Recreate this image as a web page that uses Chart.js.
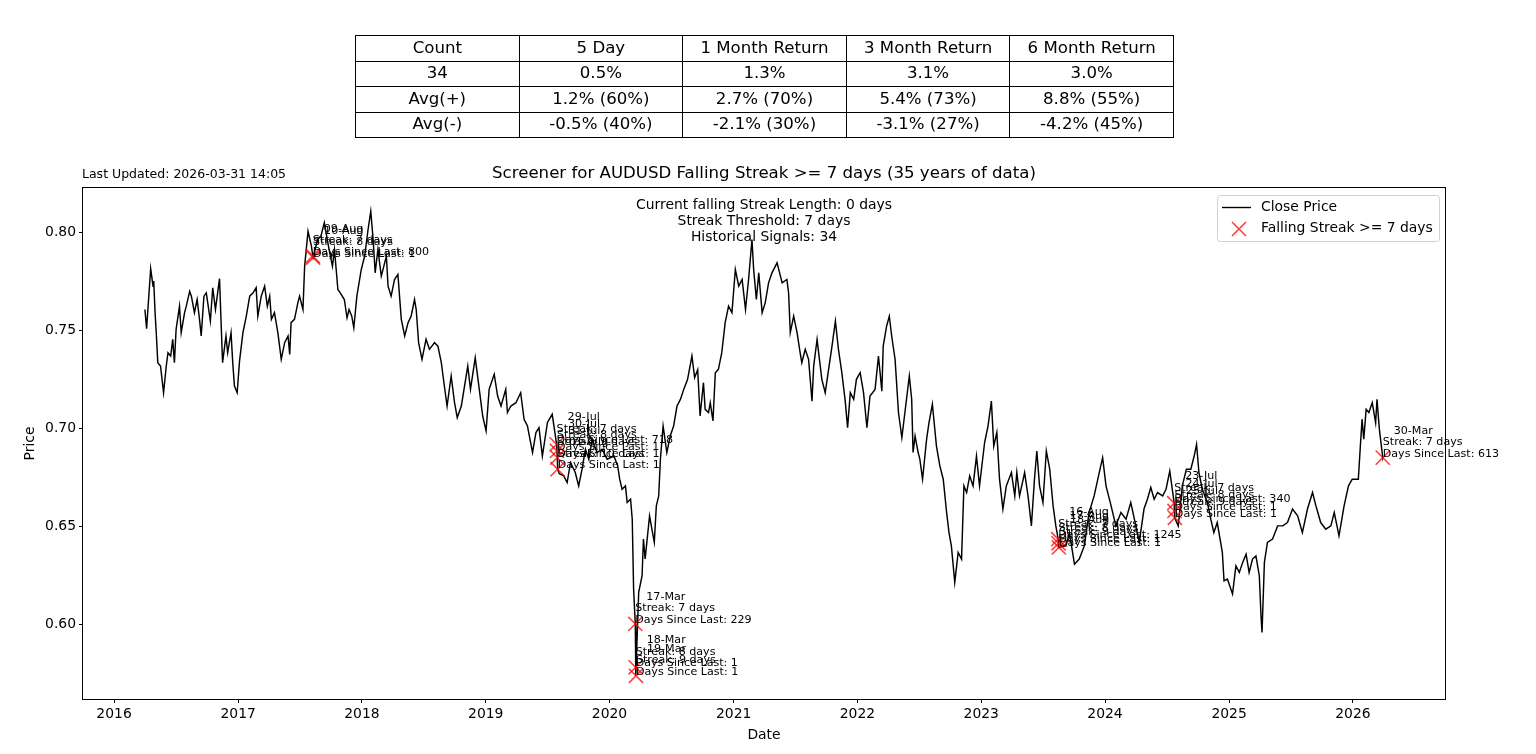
<!DOCTYPE html>
<html lang="en">
<head>
<meta charset="UTF-8">
<title>AUDUSD Falling Streak Screener</title>
<script src="https://cdn.jsdelivr.net/npm/chart.js"></script>
<style>
  body { margin: 0; background: #fff; font-family: "DejaVu Sans", sans-serif; }
  #wrap { position: relative; width: 1536px; height: 754px; }
  #stats {
    position: absolute; left: 355px; top: 35px; width: 819px;
    border-collapse: collapse; table-layout: fixed;
    font-size: 16.6px; color: #000;
  }
  #stats td { border: 1px solid #000; height: 24.5px; padding: 0; text-align: center; line-height: 1; }
  #chart { position: absolute; left: 0; top: 0; }
</style>
</head>
<body>
<div id="wrap">
  <canvas id="chart" width="1536" height="754"></canvas>
  <table id="stats"></table>
</div>

<script>
  // summary table
  const tableHead = ["Count", "5 Day", "1 Month Return", "3 Month Return", "6 Month Return"];
  const tableRows = [
    ["34", "0.5%", "1.3%", "3.1%", "3.0%"],
    ["Avg(+)", "1.2% (60%)", "2.7% (70%)", "5.4% (73%)", "8.8% (55%)"],
    ["Avg(-)", "-0.5% (40%)", "-2.1% (30%)", "-3.1% (27%)", "-4.2% (45%)"]
  ];

  // close prices
  const dates = [
    "2016-04-01","2016-04-06","2016-04-18","2016-04-25","2016-04-27","2016-05-01","2016-05-05","2016-05-09","2016-05-17","2016-05-26",
    "2016-06-03","2016-06-08","2016-06-16","2016-06-22","2016-06-27","2016-07-02","2016-07-12","2016-07-17","2016-07-27","2016-08-01",
    "2016-08-11","2016-08-16","2016-08-25","2016-09-02","2016-09-09","2016-09-14","2016-09-22","2016-09-29","2016-10-11","2016-10-18",
    "2016-10-26","2016-11-07","2016-11-11","2016-11-16","2016-11-26","2016-12-01","2016-12-11","2016-12-16","2016-12-21","2016-12-29",
    "2017-01-05","2017-01-15","2017-01-25","2017-02-04","2017-02-14","2017-02-23","2017-02-28","2017-03-10","2017-03-20","2017-03-28",
    "2017-04-04","2017-04-09","2017-04-18","2017-04-28","2017-05-08","2017-05-18","2017-05-28","2017-06-02","2017-06-06","2017-06-16",
    "2017-06-26","2017-07-01","2017-07-11","2017-07-16","2017-07-26","2017-08-05","2017-08-09","2017-08-10","2017-08-23","2017-09-02",
    "2017-09-12","2017-09-26","2017-10-06","2017-10-12","2017-10-17","2017-10-22","2017-10-29","2017-11-10","2017-11-18","2017-11-24",
    "2017-12-02","2017-12-08","2017-12-17","2017-12-30",
    "2018-01-09","2018-01-19","2018-01-27","2018-02-03","2018-02-09","2018-02-17","2018-02-27","2018-03-09","2018-03-14","2018-03-19",
    "2018-03-28","2018-04-07","2018-04-17","2018-04-27","2018-05-07","2018-05-17","2018-05-26","2018-06-05","2018-06-10","2018-06-17",
    "2018-06-27","2018-07-09","2018-07-19","2018-08-03","2018-08-13","2018-08-23","2018-09-01","2018-09-09","2018-09-21","2018-10-01",
    "2018-10-09","2018-10-21","2018-11-09","2018-11-17","2018-12-01","2018-12-13","2018-12-23",
    "2019-01-02","2019-01-11","2019-01-26","2019-02-05","2019-02-15","2019-03-01","2019-03-06","2019-03-16","2019-03-31","2019-04-14",
    "2019-04-24","2019-05-04","2019-05-19","2019-05-29","2019-06-07","2019-06-17","2019-07-02","2019-07-16","2019-07-29","2019-07-30",
    "2019-07-31","2019-08-01","2019-08-06","2019-08-19","2019-08-29","2019-09-08","2019-09-22","2019-10-02","2019-10-12","2019-10-22",
    "2019-11-01","2019-11-11","2019-11-25","2019-12-10","2019-12-25",
    "2020-01-14","2020-01-25","2020-01-31","2020-02-07","2020-02-17","2020-02-22","2020-03-03","2020-03-08","2020-03-12","2020-03-17",
    "2020-03-18","2020-03-19","2020-03-27","2020-04-06","2020-04-10","2020-04-15","2020-04-22","2020-04-28","2020-05-05","2020-05-12",
    "2020-05-18","2020-05-25","2020-05-30","2020-06-07","2020-06-18","2020-06-28","2020-07-08","2020-07-18","2020-07-28","2020-08-07",
    "2020-08-18","2020-08-31","2020-09-08","2020-09-17","2020-09-24","2020-10-04","2020-10-09","2020-10-19","2020-10-24","2020-11-01",
    "2020-11-08","2020-11-17","2020-11-27","2020-12-07","2020-12-17","2020-12-27",
    "2021-01-06","2021-01-16","2021-01-26","2021-02-05","2021-02-14","2021-02-24","2021-03-01","2021-03-09","2021-03-16","2021-03-26",
    "2021-04-04","2021-04-14","2021-04-24","2021-05-09","2021-05-24","2021-06-07","2021-06-12","2021-06-17","2021-06-27","2021-07-07",
    "2021-07-16","2021-07-21","2021-07-31","2021-08-10","2021-08-20","2021-08-25","2021-09-04","2021-09-18","2021-09-28","2021-10-08",
    "2021-10-18","2021-10-28","2021-11-06","2021-11-16","2021-11-26","2021-12-03","2021-12-11","2021-12-21","2021-12-29",
    "2022-01-09","2022-01-19","2022-01-29","2022-02-07","2022-02-22","2022-03-04","2022-03-14","2022-03-18","2022-03-28","2022-04-05",
    "2022-04-12","2022-04-22","2022-05-02","2022-05-12","2022-05-21","2022-06-03","2022-06-10","2022-06-14","2022-06-20","2022-06-29",
    "2022-07-04","2022-07-12","2022-07-24","2022-07-31","2022-08-10","2022-08-22","2022-09-01","2022-09-11","2022-09-21","2022-09-28",
    "2022-10-05","2022-10-15","2022-10-25","2022-11-04","2022-11-11","2022-11-19","2022-11-28","2022-12-08","2022-12-18","2022-12-27",
    "2023-01-11","2023-01-21","2023-01-31","2023-02-07","2023-02-16","2023-02-24","2023-03-06","2023-03-16","2023-03-31","2023-04-10",
    "2023-04-16","2023-04-24","2023-05-09","2023-05-19","2023-05-29","2023-06-07","2023-06-14","2023-06-22","2023-07-02","2023-07-12",
    "2023-07-22","2023-08-01","2023-08-09","2023-08-16","2023-08-17","2023-08-18","2023-09-08","2023-09-18","2023-10-03","2023-10-17",
    "2023-11-01","2023-11-15","2023-11-30","2023-12-15","2023-12-25",
    "2024-01-04","2024-01-19","2024-02-02","2024-02-17","2024-03-03","2024-03-17","2024-04-01","2024-04-11","2024-04-25","2024-05-05",
    "2024-05-15","2024-05-25","2024-06-04","2024-06-19","2024-06-29","2024-07-10","2024-07-23","2024-07-24","2024-07-25","2024-08-04",
    "2024-08-16","2024-08-28","2024-09-10","2024-09-20","2024-09-27","2024-10-04","2024-10-14","2024-10-29","2024-11-08","2024-11-17",
    "2024-11-27","2024-12-12","2024-12-17","2024-12-27",
    "2025-01-11","2025-01-21","2025-01-31","2025-02-10","2025-02-20","2025-03-01","2025-03-11","2025-03-21","2025-03-31","2025-04-05",
    "2025-04-08","2025-04-15","2025-04-24","2025-05-09","2025-05-24","2025-06-08","2025-06-22","2025-07-07","2025-07-22","2025-08-05",
    "2025-08-20","2025-09-04","2025-09-14","2025-09-28","2025-10-13","2025-10-28","2025-11-07","2025-11-21","2025-12-06","2025-12-19",
    "2025-12-30",
    "2026-01-17","2026-01-23","2026-01-28","2026-02-02","2026-02-09","2026-02-17","2026-02-27","2026-03-09","2026-03-13","2026-03-20",
    "2026-03-30","2026-03-31"
  ];
  const closes = [
    0.7607,0.7509,0.7815,0.7726,0.7752,0.7591,0.7472,0.7336,0.7319,0.7183,
    0.7319,0.7387,0.7370,0.7455,0.7336,0.7506,0.7624,0.7489,0.7591,0.7624,
    0.7700,0.7675,0.7591,0.7658,0.7557,0.7472,0.7675,0.7692,0.7548,0.7718,
    0.7607,0.7764,0.7573,0.7336,0.7472,0.7387,0.7489,0.7336,0.7217,0.7183,
    0.7344,0.7489,0.7573,0.7675,0.7692,0.7718,0.7573,0.7675,0.7726,0.7624,
    0.7675,0.7557,0.7591,0.7489,0.7353,0.7438,0.7472,0.7378,0.7540,0.7557,
    0.7641,0.7675,0.7607,0.7828,0.8006,0.7930,0.7880,0.7872,0.7964,0.7981,
    0.8049,0.7913,0.7828,0.7913,0.7811,0.7709,0.7692,0.7658,0.7565,0.7607,
    0.7573,0.7514,0.7675,0.7811,
    0.7879,0.8015,0.8108,0.7964,0.7794,0.7913,0.7777,0.7845,0.7879,0.7726,
    0.7675,0.7760,0.7786,0.7557,0.7472,0.7540,0.7573,0.7658,0.7607,0.7438,
    0.7353,0.7455,0.7404,0.7438,0.7420,0.7336,0.7217,0.7115,0.7268,0.7132,
    0.7056,0.7115,0.7319,0.7200,0.7361,0.7200,0.7064,
    0.6988,0.7200,0.7277,0.7166,0.7115,0.7200,0.7082,0.7115,0.7132,0.7183,
    0.7047,0.7013,0.6878,0.6980,0.7005,0.6860,0.7031,0.7073,0.6920,0.6886,
    0.6852,0.6793,0.6770,0.6759,0.6725,0.6827,0.6776,0.6708,0.6793,0.6895,
    0.6844,0.6946,0.6878,0.6895,0.6844,
    0.6860,0.6810,0.6742,0.6691,0.6708,0.6623,0.6640,0.6538,0.6182,0.6004,
    0.5783,0.5740,0.6165,0.6250,0.6437,0.6335,0.6453,0.6555,0.6487,0.6420,
    0.6606,0.6657,0.6844,0.7013,0.6878,0.6962,0.7013,0.7115,0.7149,0.7200,
    0.7250,0.7370,0.7260,0.7300,0.7064,0.7234,0.7098,0.7082,0.7132,0.7039,
    0.7285,0.7302,0.7387,0.7540,0.7624,0.7591,
    0.7811,0.7726,0.7760,0.7607,0.7760,0.7964,0.7811,0.7658,0.7794,0.7591,
    0.7641,0.7743,0.7794,0.7845,0.7743,0.7760,0.7692,0.7489,0.7573,0.7489,
    0.7387,0.7336,0.7404,0.7353,0.7140,0.7319,0.7455,0.7251,0.7183,0.7302,
    0.7420,0.7548,0.7404,0.7285,0.7140,0.7005,0.7183,0.7149,0.7251,
    0.7285,0.7183,0.7005,0.7166,0.7200,0.7370,0.7191,0.7420,0.7522,0.7573,
    0.7472,0.7353,0.7082,0.6954,0.7082,0.7268,0.7149,0.6878,0.6962,0.6878,
    0.6844,0.6742,0.6946,0.7030,0.7124,0.6911,0.6810,0.6742,0.6572,0.6470,
    0.6402,0.6216,0.6369,0.6335,0.6708,0.6674,0.6759,0.6708,0.6860,0.6708,
    0.6929,0.7013,0.7140,0.6911,0.6980,0.6742,0.6590,0.6708,0.6776,0.6657,
    0.6776,0.6657,0.6776,0.6657,0.6504,0.6742,0.6886,0.6708,0.6623,0.6886,
    0.6793,0.6606,0.6504,0.6436,0.6415,0.6394,0.6402,0.6470,0.6309,0.6335,
    0.6402,0.6572,0.6657,0.6776,0.6852,
    0.6708,0.6606,0.6504,0.6572,0.6538,0.6623,0.6504,0.6420,0.6590,0.6640,
    0.6700,0.6640,0.6674,0.6657,0.6691,0.6784,0.6620,0.6580,0.6545,0.6504,
    0.6708,0.6793,0.6793,0.6860,0.6920,0.6776,0.6691,0.6623,0.6538,0.6470,
    0.6521,0.6369,0.6224,0.6233,
    0.6157,0.6300,0.6267,0.6318,0.6360,0.6267,0.6335,0.6351,0.6250,0.6046,
    0.5961,0.6318,0.6420,0.6437,0.6504,0.6504,0.6521,0.6590,0.6555,0.6470,
    0.6590,0.6674,0.6606,0.6521,0.6487,0.6504,0.6572,0.6453,0.6606,0.6708,
    0.6742,
    0.6742,0.6912,0.7048,0.6946,0.7098,0.7082,0.7132,0.7030,0.7149,0.6997,
    0.6852,0.6860
  ];

  // falling streak signals (7+ days)
  const sigDates = ["2017-08-09","2017-08-10","2019-07-29","2019-07-30","2019-07-31","2019-08-01",
                    "2020-03-17","2020-03-18","2020-03-19","2023-08-16","2023-08-17","2023-08-18",
                    "2024-07-23","2024-07-24","2024-07-25","2026-03-30"];
  const sigLabels = ["09-Aug","10-Aug","29-Jul","30-Jul","31-Jul","01-Aug",
                     "17-Mar","18-Mar","19-Mar","16-Aug","17-Aug","18-Aug",
                     "23-Jul","24-Jul","25-Jul","30-Mar"];
  const sigPrices = [0.7880,0.7872,0.6920,0.6886,0.6852,0.6793,
                     0.6004,0.5783,0.5740,0.6436,0.6415,0.6394,
                     0.6620,0.6580,0.6545,0.6852];
  const sigStreaks = [7,8,7,8,9,10,7,8,9,7,8,9,7,8,9,7];
  const sigDaysSince = [800,1,718,1,1,1,229,1,1,1245,1,1,340,1,1,613];

  const yTicks = [0.60, 0.65, 0.70, 0.75, 0.80];
  const xYears = [2016, 2017, 2018, 2019, 2020, 2021, 2022, 2023, 2024, 2025, 2026];

  const titleText = "Screener for AUDUSD Falling Streak >= 7 days (35 years of data)";
  const updatedText = "Last Updated: 2026-03-31 14:05";
  const infoLines = ["Current falling Streak Length: 0 days", "Streak Threshold: 7 days", "Historical Signals: 34"];

  // build the table
  const tbl = document.getElementById("stats");
  [tableHead, ...tableRows].forEach(r => {
    const tr = document.createElement("tr");
    r.forEach(c => { const td = document.createElement("td"); td.textContent = c; tr.appendChild(td); });
    tbl.appendChild(tr);
  });

  function toMs(s) {
    const p = s.split("-").map(Number);
    return Date.UTC(p[0], p[1] - 1, p[2]);
  }

  const linePts = dates.map((d, i) => ({ x: toMs(d), y: closes[i] }));
  const sigPts = sigDates.map((d, i) => ({ x: toMs(d), y: sigPrices[i] }));

  // matplotlib style 5% margins
  const xs = linePts.map(p => p.x);
  const ys = closes.concat(sigPrices);
  const xSpan = Math.max(...xs) - Math.min(...xs);
  const ySpan = Math.max(...ys) - Math.min(...ys);
  const xMin = Math.min(...xs) - 0.05 * xSpan, xMax = Math.max(...xs) + 0.05 * xSpan;
  const yMin = Math.min(...ys) - 0.05 * ySpan, yMax = Math.max(...ys) + 0.05 * ySpan;

  const FONT = '"DejaVu Sans", sans-serif';
  const RED = "rgba(255, 0, 0, 0.75)";

  const decor = {
    id: "decor",
    afterDatasetsDraw(chart) {
      const { ctx, scales: { x, y } } = chart;
      ctx.save();
      ctx.font = "11.1px " + FONT;
      ctx.fillStyle = "#000";
      ctx.textAlign = "left";
      ctx.textBaseline = "alphabetic";
      sigDates.forEach((d, i) => {
        const px = x.getPixelForValue(toMs(d));
        const py = y.getPixelForValue(sigPrices[i]);
        ctx.fillText("Days Since Last: " + sigDaysSince[i], px, py - 1);
        ctx.fillText("Streak: " + sigStreaks[i] + " days", px, py - 12.5);
        ctx.fillText(sigLabels[i], px + 11, py - 24);
      });
      ctx.restore();
    },
    afterDraw(chart) {
      const { ctx, chartArea: a } = chart;
      ctx.save();
      // all four spines
      ctx.strokeStyle = "#000";
      ctx.lineWidth = 1;
      ctx.strokeRect(a.left - 0.5, a.top - 0.5, a.right - a.left + 1, a.bottom - a.top + 1);

      ctx.fillStyle = "#000";
      ctx.textBaseline = "middle";
      ctx.textAlign = "center";
      ctx.font = "16.6px " + FONT;
      ctx.fillText(titleText, (a.left + a.right) / 2, 174);

      ctx.textAlign = "left";
      ctx.font = "12.5px " + FONT;
      ctx.fillText(updatedText, 82, 175);

      ctx.textAlign = "center";
      ctx.font = "13.9px " + FONT;
      infoLines.forEach((t, i) => ctx.fillText(t, (a.left + a.right) / 2, 205 + i * 16));

      // legend
      const lx = 1217.5, ly = 195.5, lw = 222, lh = 46;
      ctx.beginPath();
      ctx.roundRect(lx, ly, lw, lh, 3);
      ctx.fillStyle = "rgba(255,255,255,0.8)";
      ctx.fill();
      ctx.strokeStyle = "#d0d0d0";
      ctx.stroke();
      ctx.strokeStyle = "#000";
      ctx.lineWidth = 1.4;
      ctx.beginPath();
      ctx.moveTo(1222, 207.5);
      ctx.lineTo(1251, 207.5);
      ctx.stroke();
      ctx.strokeStyle = RED;
      ctx.lineWidth = 1.6;
      ctx.beginPath();
      ctx.moveTo(1232, 222); ctx.lineTo(1246, 236);
      ctx.moveTo(1246, 222); ctx.lineTo(1232, 236);
      ctx.stroke();
      ctx.fillStyle = "#000";
      ctx.textAlign = "left";
      ctx.font = "13.9px " + FONT;
      ctx.fillText("Close Price", 1261, 207);
      ctx.fillText("Falling Streak >= 7 days", 1261, 228.5);
      ctx.restore();
    }
  };

  new Chart(document.getElementById("chart"), {
    type: "line",
    data: {
      datasets: [
        {
          label: "Close Price",
          data: linePts,
          borderColor: "#000",
          borderWidth: 1.45,
          pointRadius: 0,
          tension: 0,
          order: 2
        },
        {
          type: "scatter",
          label: "Falling Streak >= 7 days",
          data: sigPts,
          pointStyle: "crossRot",
          pointRadius: 10,
          borderColor: RED,
          backgroundColor: RED,
          borderWidth: 1.6,
          order: 1
        }
      ]
    },
    options: {
      responsive: false,
      animation: false,
      devicePixelRatio: 1,
      layout: { padding: { top: 188, right: 91, left: 0, bottom: 0 } },
      plugins: { legend: { display: false }, tooltip: { enabled: false } },
      scales: {
        x: {
          type: "linear",
          min: xMin,
          max: xMax,
          afterBuildTicks: s => { s.ticks = xYears.map(yr => ({ value: Date.UTC(yr, 0, 1) })); },
          afterFit: s => { s.height = 55; },
          ticks: {
            callback: v => new Date(v).getUTCFullYear(),
            font: { family: FONT, size: 13.9 },
            color: "#000",
            maxRotation: 0,
            autoSkip: false,
            padding: 3
          },
          grid: { drawOnChartArea: false, tickLength: 4, color: "#000" },
          border: { display: false },
          title: { display: true, text: "Date", color: "#000", font: { family: FONT, size: 13.9 }, padding: { top: 0, bottom: 10 } }
        },
        y: {
          type: "linear",
          min: yMin,
          max: yMax,
          afterBuildTicks: s => { s.ticks = yTicks.map(v => ({ value: v })); },
          afterFit: s => { s.width = 83; },
          ticks: {
            callback: v => v.toFixed(2),
            font: { family: FONT, size: 13.9 },
            color: "#000",
            padding: 3
          },
          grid: { drawOnChartArea: false, tickLength: 4, color: "#000" },
          border: { display: false },
          title: { display: true, text: "Price", color: "#000", font: { family: FONT, size: 13.9 }, padding: { top: 22, bottom: 0 } }
        }
      }
    },
    plugins: [decor]
  });
</script>
</body>
</html>
